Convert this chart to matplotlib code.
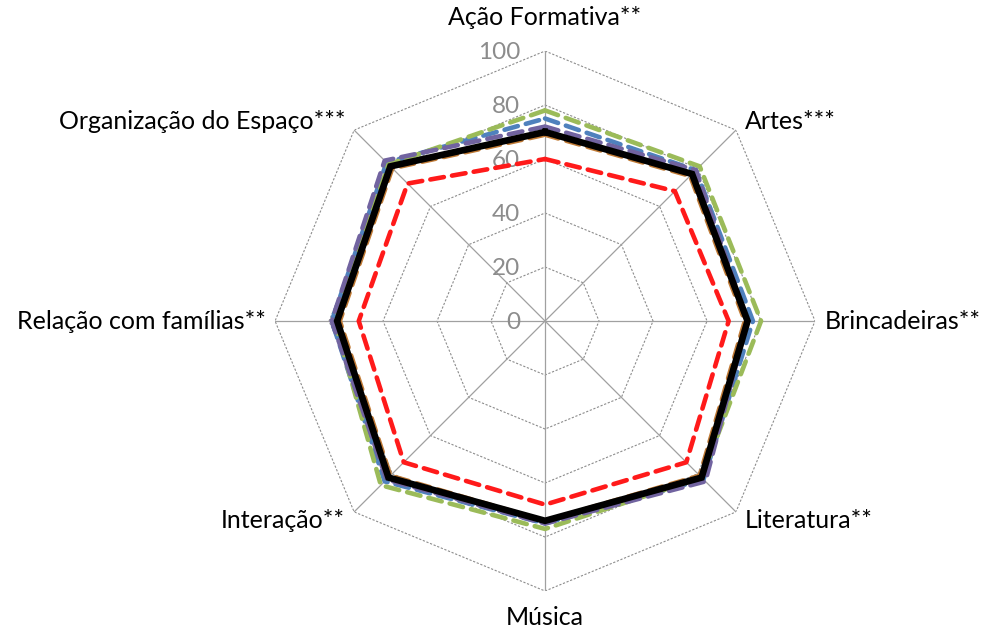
import numpy as np
import matplotlib.pyplot as plt

plt.rcParams['font.family'] = ['Lato', 'DejaVu Sans']

# Domains, clockwise from the top
categories = ['Ação Formativa**', 'Artes***', 'Brincadeiras**', 'Literatura**',
              'Música', 'Interação**', 'Relação com famílias**', 'Organização do Espaço***']

# Scores per group (0-100)
blue = [75, 79, 77, 83, 75, 84, 79, 83]
orange = [69, 76, 74, 81, 74, 81, 76, 80]
green = [78, 81, 80, 82, 77, 86, 78, 82]
purple = [72, 79, 75, 84, 75, 83, 79, 84]
red = [60, 68, 68, 74, 68, 74, 69, 72]
black = [70, 77, 75, 82, 74, 82, 77, 81]

ticks = [0, 20, 40, 60, 80, 100]

n = len(categories)
angles = np.linspace(0, 2 * np.pi, n, endpoint=False)
closed = np.append(angles, angles[0])

def close(vals):
    return np.append(vals, vals[0])

fig = plt.figure(figsize=(9.9, 6.29), dpi=100)
ax = fig.add_axes([0.2778, 0.0604, 0.5455, 0.8585], projection='polar')
ax.set_theta_zero_location('N')
ax.set_theta_direction(-1)
ax.set_ylim(0, 100)
ax.grid(False)
ax.spines['polar'].set_visible(False)
ax.set_xticks([])
ax.set_yticks([])

# octagonal grid and spokes
for t in ticks[1:]:
    ax.plot(closed, [t] * (n + 1), color='#8c8c8c', lw=0.8,
            linestyle=(0, (2, 1.5)), zorder=1)
for a in angles:
    ax.plot([a, a], [0, 100], color='#a0a0a0', lw=0.9, zorder=1)

# radial scale labels along the top spoke
for t in ticks:
    ax.annotate(str(t), xy=(0, t), xytext=(-18, -1), textcoords='offset points',
                ha='right', va='center', fontsize=17.5, color='#8c8c8c', zorder=2)

dash = (0, (3.0, 1.8))
series = [(blue, '#4f81bd'), (orange, '#c07a35'), (green, '#9bbb59'),
          (purple, '#7163a0'), (red, '#ff1a1a')]
for vals, col in series:
    ax.plot(closed, close(vals), color=col, lw=3.3, linestyle=dash,
            dash_capstyle='round', zorder=3)
ax.plot(closed, close(black), color='black', lw=4.8, zorder=4,
        solid_joinstyle='miter')

# category labels around the chart, offset from each outer vertex (points)
label_off = [
    (0, 24, 'center'),
    (6.5, 6, 'left'),
    (7, 0, 'left'),
    (6.5, -6, 'left'),
    (0, -19, 'center'),
    (-6.5, -6, 'right'),
    (-6.5, 0, 'right'),
    (-6.5, 6, 'right'),
]
for lab, a, (dx, dy, ha) in zip(categories, angles, label_off):
    ax.annotate(lab, xy=(a, 100), xytext=(dx, dy), textcoords='offset points',
                ha=ha, va='center', fontsize=18, color='black',
                annotation_clip=False)

fig.savefig('out.png', dpi=100, facecolor='white')
